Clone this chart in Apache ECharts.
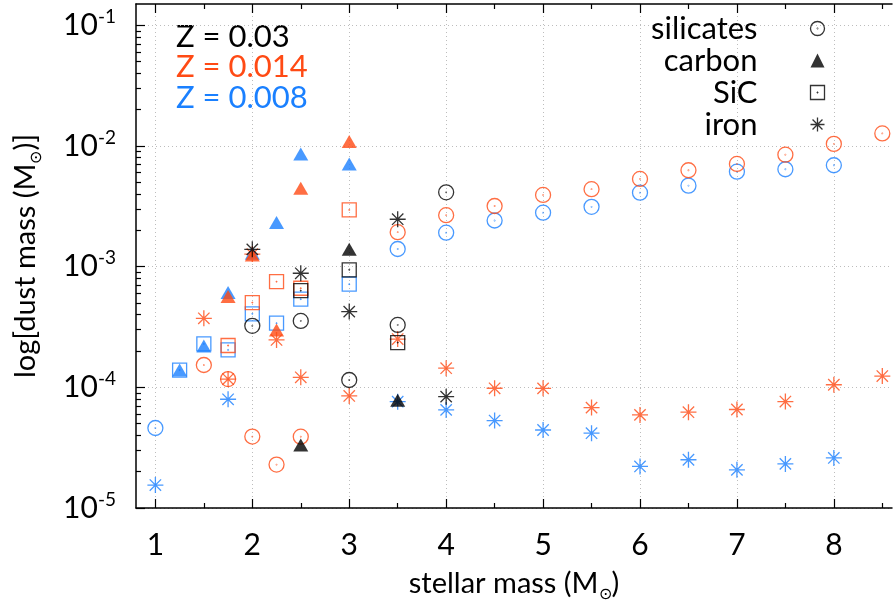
<!DOCTYPE html>
<html>
<head>
<meta charset="utf-8">
<script src="https://cdn.jsdelivr.net/npm/echarts@6/dist/echarts.min.js"></script>
<style>
html, body { margin: 0; padding: 0; background: #fff; }
#chart { width: 893px; height: 604px; }
</style>
</head>
<body>
<div id="chart"></div>
<script>
// [stellar mass, dust mass]  Z = 0.03
const silicates_03 = [[2, 3.23e-4], [2.5, 3.55e-4], [3, 1.15e-4], [3.5, 3.29e-4], [4, 4.13e-3]];
const carbon_03 = [[2.5, 3.33e-5], [3, 1.39e-3], [3.5, 7.8e-5]];
const sic_03 = [[2.5, 6.32e-4], [3, 9.4e-4], [3.5, 2.35e-4]];
const iron_03 = [[2, 1.39e-3], [2.5, 8.81e-4], [3, 4.24e-4], [3.5, 2.47e-3], [4, 8.37e-5]];

// Z = 0.014
const silicates_014 = [[1.5, 1.53e-4], [1.75, 1.17e-4], [2, 3.91e-5], [2.25, 2.29e-5], [2.5, 3.9e-5],
	[3.5, 1.93e-3], [4, 2.67e-3], [4.5, 3.18e-3], [5, 3.93e-3], [5.5, 4.38e-3], [6, 5.33e-3],
	[6.5, 6.29e-3], [7, 7.1e-3], [7.5, 8.47e-3], [8, 1.04e-2], [8.5, 1.27e-2]];
const carbon_014 = [[1.75, 5.65e-4], [2, 1.25e-3], [2.25, 2.99e-4], [2.5, 4.46e-3], [3, 1.09e-2]];
const sic_014 = [[1.75, 2.22e-4], [2, 5.04e-4], [2.25, 7.51e-4], [2.5, 6.62e-4], [3, 2.95e-3]];
const iron_014 = [[1.5, 3.73e-4], [1.75, 1.17e-4], [2, 1.27e-3], [2.25, 2.47e-4], [2.5, 1.21e-4],
	[3, 8.48e-5], [3.5, 2.51e-4], [4, 1.44e-4], [4.5, 9.82e-5], [5, 9.8e-5], [5.5, 6.79e-5],
	[6, 5.91e-5], [6.5, 6.22e-5], [7, 6.55e-5], [7.5, 7.62e-5], [8, 1.05e-4], [8.5, 1.24e-4]];

// Z = 0.008
const silicates_008 = [[1, 4.6e-5], [3.5, 1.4e-3], [4, 1.91e-3], [4.5, 2.41e-3], [5, 2.8e-3],
	[5.5, 3.13e-3], [6, 4.1e-3], [6.5, 4.69e-3], [7, 6.12e-3], [7.5, 6.41e-3], [8, 6.92e-3]];
const carbon_008 = [[1.25, 1.39e-4], [1.5, 2.2e-4], [1.75, 6.09e-4], [2, 1.29e-3], [2.25, 2.32e-3],
	[2.5, 8.59e-3], [3, 7.1e-3]];
const sic_008 = [[1.25, 1.39e-4], [1.5, 2.29e-4], [1.75, 2.04e-4], [2, 4.06e-4], [2.25, 3.4e-4],
	[2.5, 5.37e-4], [3, 7.15e-4]];
const iron_008 = [[1, 1.55e-5], [1.75, 7.96e-5], [3.5, 7.6e-5], [4, 6.5e-5], [4.5, 5.3e-5], [5, 4.43e-5],
	[5.5, 4.17e-5], [6, 2.21e-5], [6.5, 2.51e-5], [7, 2.07e-5], [7.5, 2.32e-5], [8, 2.6e-5]];

// ticks
const xMajor = [1, 2, 3, 4, 5, 6, 7, 8];
const xMinor = [1.5, 2.5, 3.5, 4.5, 5.5, 6.5, 7.5, 8.5];
const yDecades = [1e-5, 1e-4, 1e-3, 1e-2, 1e-1];
const yMinor = yDecades.slice(0, -1).flatMap(d => [2, 3, 4, 5, 6, 7, 8, 9].map(k => k * d));

const metallicities = ['Z = 0.03', 'Z = 0.014', 'Z = 0.008'];
const colors = ['#000000', '#ff4a14', '#1a80ff'];

(function () {
	const font = 'Lato';
	const circlePath = 'path://M10,1A9,9 0 1,1 9.99,1Z M10,9.7A0.3,0.3 0 1,1 9.99,9.7Z';
	const squarePath = 'path://M1,1L19,1L19,19L1,19Z M10,9.7L10.3,10L10,10.3L9.7,10Z';
	const starPath = 'path://M10,0L10,20M0,10L20,10M2.9,2.9L17.1,17.1M2.9,17.1L17.1,2.9';

	const species = [
		{ name: 'silicates', sets: [silicates_008, silicates_014, silicates_03], symbol: circlePath, size: 15, hollow: true },
		{ name: 'carbon', sets: [carbon_008, carbon_014, carbon_03], symbol: 'triangle', size: [15, 13], hollow: false },
		{ name: 'SiC', sets: [sic_008, sic_014, sic_03], symbol: squarePath, size: 14, hollow: true },
		{ name: 'iron', sets: [iron_008, iron_014, iron_03], symbol: starPath, size: 16, hollow: true }
	];

	// blue first, then orange, black on top
	const colorOrder = [2, 1, 0];
	const series = [];
	colorOrder.forEach(function (ci, k) {
		species.forEach(function (sp) {
			series.push({
				name: sp.name,
				type: 'scatter',
				data: sp.sets[k],
				symbol: sp.symbol,
				symbolSize: sp.size,
				itemStyle: sp.hollow
					? { color: 'none', borderColor: colors[ci], borderWidth: 1.3 }
					: { color: colors[ci] },
				emphasis: { disabled: true }
			});
		});
	});

	const legendData = species.map(function (sp) {
		return {
			name: sp.name,
			icon: sp.symbol,
			itemStyle: sp.hollow
				? { color: 'none', borderColor: '#000', borderWidth: 1.3 }
				: { color: '#000', borderWidth: 0 }
		};
	});

	const xMin = 0.8, xMax = 8.6, yMin = 1e-5, yMax = 0.15;
	const grid = { left: 136, right: 1, top: 4, bottom: 96, containLabel: false, outerBoundsMode: 'none' };
	const gridLine = { show: true, lineStyle: { color: '#bdbdbd', width: 1, type: [1, 3] } };
	const axisLine = { show: true, lineStyle: { color: '#000', width: 1.5 } };

	function xAxis(pos, ticks, len, major) {
		return {
			type: 'value', position: pos, min: xMin, max: xMax,
			axisLine: major ? axisLine : { show: false },
			axisTick: { show: true, inside: true, length: len, customValues: ticks, lineStyle: { color: '#000', width: 1.2 } },
			axisLabel: { show: false },
			splitLine: { show: false }
		};
	}
	function yAxis(ticks, len, major) {
		return {
			type: 'log', logBase: 10, position: 'left', min: yMin, max: yMax,
			axisLine: major ? axisLine : { show: false },
			axisTick: { show: true, inside: true, length: len, customValues: ticks, lineStyle: { color: '#000', width: 1.2 } },
			axisLabel: { show: false },
			splitLine: { show: false }
		};
	}

	const xBottom = xAxis('bottom', xMajor, 9, true);
	xBottom.splitLine = gridLine;
	xBottom.axisLabel = { show: true, customValues: xMajor, margin: 22, fontSize: 30, fontFamily: font, color: '#000' };
	xBottom.name = '{n|stellar mass (M}{s|\u2299}{n|)}';
	xBottom.nameLocation = 'middle';
	xBottom.nameGap = 58;
	xBottom.nameTextStyle = {
		rich: {
			n: { fontSize: 29, fontFamily: font, color: '#000', lineHeight: 36 },
			s: { fontSize: 16, fontFamily: font, color: '#000', lineHeight: 36, verticalAlign: 'bottom' }
		}
	};

	const yLeft = yAxis(yDecades, 9, true);
	yLeft.splitLine = gridLine;
	yLeft.axisLabel = {
		show: true, customValues: yDecades, margin: 20,
		formatter: function (v) {
			return '{b|10}{e|' + Math.round(Math.log10(v)) + '}';
		},
		rich: {
			b: { fontSize: 30, fontFamily: font, color: '#000', lineHeight: 36 },
			e: { fontSize: 19, fontFamily: font, color: '#000', lineHeight: 36, verticalAlign: 'top' }
		}
	};
	yLeft.name = '{n|log[dust mass (M}{s|\u2299}{n|)]}';
	yLeft.nameLocation = 'middle';
	yLeft.nameGap = 92;
	yLeft.nameMoveOverlap = false;
	yLeft.nameTextStyle = {
		rich: {
			n: { fontSize: 29, fontFamily: font, color: '#000', lineHeight: 36 },
			s: { fontSize: 16, fontFamily: font, color: '#000', lineHeight: 36, verticalAlign: 'bottom' }
		}
	};

	const option = {
		animation: false,
		backgroundColor: '#fff',
		grid: grid,
		xAxis: [
			xBottom,
			xAxis('bottom', xMinor, 5, false),
			xAxis('top', xMajor, 9, true),
			xAxis('top', xMinor, 5, false)
		],
		yAxis: [
			yLeft,
			yAxis(yMinor, 5, false)
		],
		legend: {
			orient: 'vertical',
			align: 'right',
			right: 66,
			top: 13,
			padding: 0,
			itemWidth: 14,
			itemHeight: 14,
			itemGap: 1,
			selectedMode: false,
			textStyle: { fontSize: 31, fontFamily: font, color: '#000', padding: [0, 48, 0, 0] },
			data: legendData
		},
		graphic: metallicities.map(function (t, i) {
			return {
				type: 'text',
				left: 176,
				top: 21 + i * 30.5,
				style: { text: t, fill: colors[i], fontSize: 31, fontFamily: font }
			};
		}),
		series: series
	};

	let myChart = echarts.init(document.getElementById('chart'));
	myChart.setOption(option);
	window.addEventListener('resize', function () {
		myChart.resize();
	});
})();
</script>
</body>
</html>
